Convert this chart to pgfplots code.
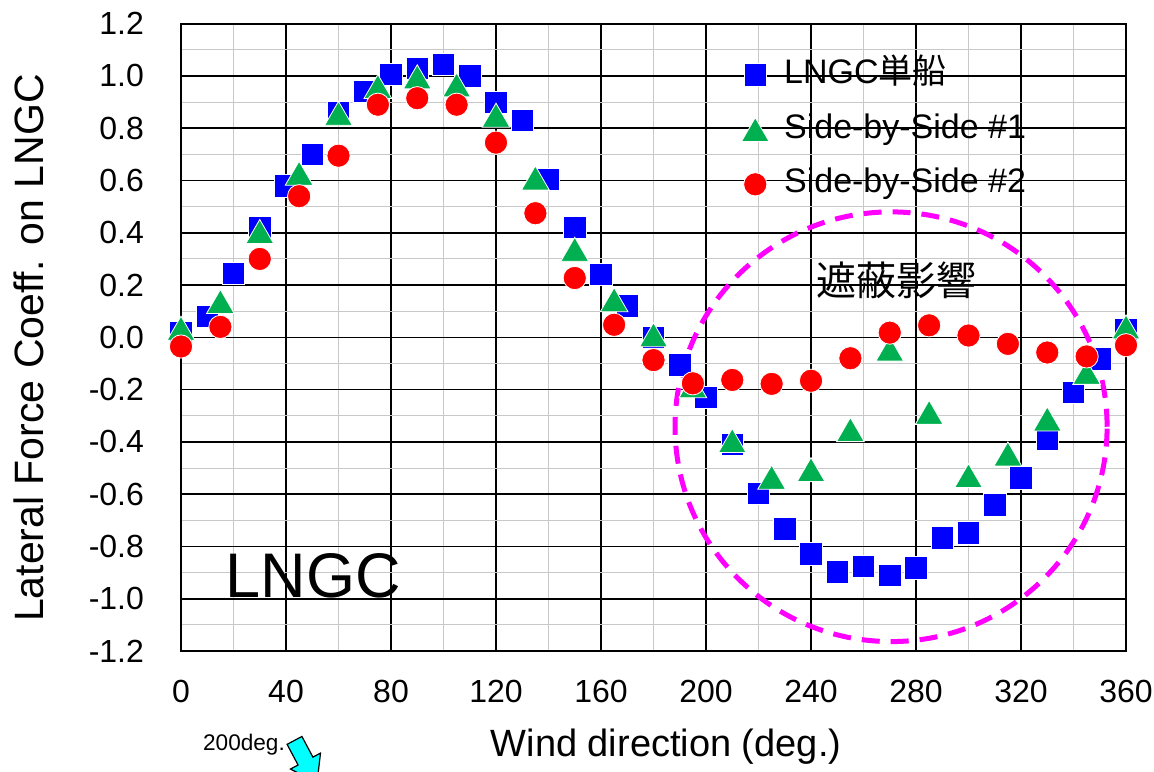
\documentclass[border=0pt]{standalone}
\usepackage{pgfplots}
\pgfplotsset{compat=1.18}
\usepackage{fontspec}
\setmainfont{Liberation Sans}
\newfontfamily\jp{Noto Sans CJK JP}
\definecolor{mblue}{RGB}{0,0,255}
\definecolor{mgreen}{RGB}{0,176,80}
\definecolor{mred}{RGB}{255,0,0}
\definecolor{mmag}{RGB}{255,0,255}
\definecolor{mcyan}{RGB}{0,255,255}
\definecolor{mgrid}{RGB}{200,200,200}
\begin{document}
\begin{tikzpicture}
\useasboundingbox (0,0) rectangle (577pt,385.5pt);
\begin{axis}[
  at={(90.5pt,60pt)}, anchor=south west,
  scale only axis, width=472.5pt, height=313.65pt,
  xmin=0, xmax=360, ymin=-1.2, ymax=1.2,
  xtick={0,40,80,120,160,200,240,280,320,360},
  xticklabels={0,40,80,120,160,200,240,280,320,360},
  ytick={-1.2,-1,-0.8,-0.6,-0.4,-0.2,0,0.2,0.4,0.6,0.8,1,1.2},
  yticklabels={-1.2,-1.0,-0.8,-0.6,-0.4,-0.2,0.0,0.2,0.4,0.6,0.8,1.0,1.2},
  minor xtick={20,60,100,140,180,220,260,300,340},
  minor ytick={-1.1,-0.9,-0.7,-0.5,-0.3,-0.1,0.1,0.3,0.5,0.7,0.9,1.1},
  grid=both,
  major grid style={black, line width=0.8pt},
  minor grid style={mgrid, line width=0.5pt},
  axis line style={black, line width=1pt},
  major tick length=0pt, minor tick length=0pt,
  tick label style={font=\fontsize{16}{18}\selectfont},
  xticklabel style={yshift=-11pt},
  yticklabel style={xshift=-15pt},
  clip=false,
  legend cell align=left,
  legend style={draw=none, fill=none, inner sep=0pt,
    at={(axis description cs:0.5926,0.9437)}, anchor=north west,
    font=\fontsize{17}{19}\selectfont,
    row sep=11.85pt, column sep=7.5pt,
    nodes={inner sep=0pt, text height=12pt, text depth=3.5pt}},
]
\addplot[only marks, mark=square*, mark size=5.6pt,
  mark options={fill=mblue, draw=white, line width=0.4pt}] coordinates {
(0,0.02) (10,0.08) (20,0.245) (30,0.42) (40,0.58) (50,0.70) (60,0.86)
(70,0.94) (80,1.005) (90,1.03) (100,1.045) (110,1.00) (120,0.90) (130,0.83)
(140,0.605) (150,0.42) (160,0.24) (170,0.12) (180,0.00) (190,-0.106)
(200,-0.229) (210,-0.41) (220,-0.596) (230,-0.733) (240,-0.828) (250,-0.898)
(260,-0.877) (270,-0.911) (280,-0.882) (290,-0.768) (300,-0.748) (310,-0.641)
(320,-0.538) (330,-0.389) (340,-0.21) (350,-0.083) (360,0.03)};
\addlegendentry{LNGC{\jp 単船}}
\addplot[only marks, mark=triangle*, mark size=8pt,
  mark options={fill=mgreen, draw=white, line width=0.4pt, yshift=-2pt}] coordinates {
(0,0.035) (15,0.137) (30,0.405) (45,0.628) (60,0.857) (75,0.96) (90,0.997)
(105,0.966) (120,0.85) (135,0.61) (150,0.337) (165,0.144) (180,0.01)
(195,-0.185) (210,-0.395) (225,-0.535) (240,-0.506) (255,-0.353) (270,-0.045)
(285,-0.287) (300,-0.529) (315,-0.446) (330,-0.312) (345,-0.134) (360,0.04)};
\addlegendentry{Side-by-Side \#1}
\addplot[only marks, mark=*, mark size=5.8pt,
  mark options={fill=mred, draw=white, line width=0.4pt}] coordinates {
(0,-0.035) (15,0.04) (30,0.30) (45,0.54) (60,0.695) (75,0.89) (90,0.915)
(105,0.89) (120,0.745) (135,0.475) (150,0.227) (165,0.048) (180,-0.087)
(195,-0.176) (210,-0.163) (225,-0.178) (240,-0.166) (255,-0.08) (270,0.018)
(285,0.046) (300,0.007) (315,-0.025) (330,-0.058) (345,-0.073) (360,-0.03)};
\addlegendentry{Side-by-Side \#2}
\draw[mmag, line width=2.5pt, dash pattern=on 9pt off 5.5pt]
  (axis cs:270.5,-0.342) ellipse [x radius=82.3, y radius=0.822];
\node[anchor=base, font=\fontsize{31.5}{34}\selectfont] at (axis cs:50.3,-0.997) {LNGC};
\node[font=\fontsize{20}{22}\selectfont\jp] at (axis cs:272.4,0.217) {遮蔽影響};
\end{axis}
\node[anchor=base, rotate=90, font=\fontsize{20.5}{23}\selectfont] at (21.5pt,211.5pt) {Lateral Force Coeff. on LNGC};
\node[anchor=base, font=\fontsize{19}{21}\selectfont] at (333pt,7.5pt) {Wind direction (deg.)};
\node[anchor=base, font=\fontsize{11.3}{13}\selectfont] at (122pt,10.5pt) {200deg.};
\begin{scope}[shift={(147.25pt,15.3pt)}, rotate=-62]
\filldraw[fill=mcyan, draw=black, line width=0.6pt] (0,-4.2pt) -- (11.7pt,-4.2pt) -- (11.7pt,-8.5pt) -- (24pt,0pt) -- (11.7pt,8.5pt) -- (11.7pt,4.2pt) -- (0,4.2pt) -- cycle;
\end{scope}
\end{tikzpicture}
\end{document}
